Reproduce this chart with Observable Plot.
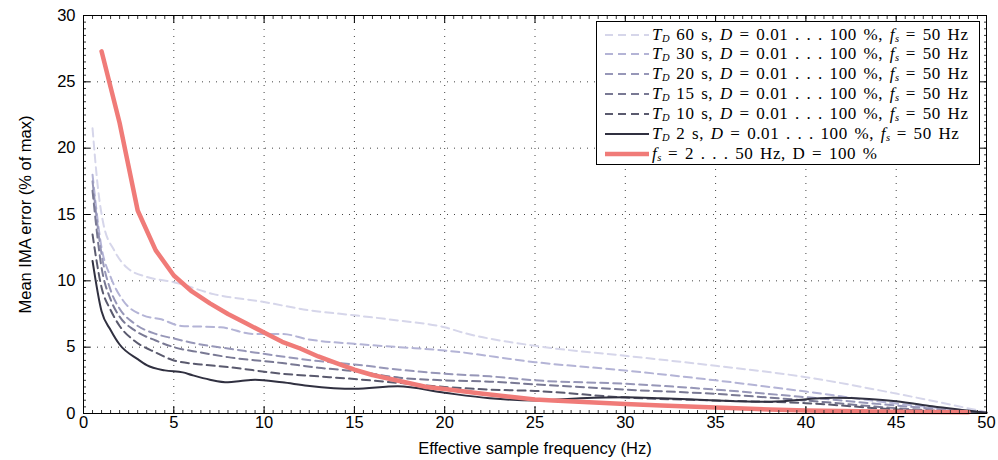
<!DOCTYPE html>
<html><head><meta charset="utf-8">
<script src="https://cdn.jsdelivr.net/npm/d3@7"></script>
<script src="https://cdn.jsdelivr.net/npm/@observablehq/plot@0.6"></script>
<style>
body{margin:0;background:#fff;}
#wrap{position:relative;width:998px;height:460px;}
#legend{position:absolute;left:596px;top:21px;width:384px;height:144px;border:1.5px solid #000;background:#fff;font-family:"Liberation Serif","DejaVu Serif",serif;font-size:17px;letter-spacing:0.6px;word-spacing:1.8px;box-sizing:border-box;}
.row{position:absolute;left:0;height:20px;display:flex;align-items:center;white-space:nowrap;line-height:18px;}
.row svg{margin-left:8px;margin-right:3px;}
sub{font-size:10.5px;vertical-align:-2px;line-height:0;letter-spacing:0;}
</style></head>
<body><div id="wrap"></div>
<script>
// ---- data ----
const f60 = [0.5,0.8,1.1,1.7,2.4,3.5,5,7.2,10,12.4,15,17.5,20,21,25,30,35,40,45,50];
const v60 = [21.5,17,14.3,12.3,11.0,10.3,9.9,9.0,8.4,7.8,7.4,7.0,6.5,6.1,5.1,4.35,3.6,2.74,1.5,0.1];
const f30 = [0.5,1,1.5,2.2,3.3,4.3,5.4,7.6,9.4,11,12.4,15,17.5,20,25,30,35,40,45,50];
const v30 = [18,12.5,10.3,8.5,7.4,7.1,6.6,6.5,6.0,6.0,5.6,5.25,5.0,4.75,3.87,3.24,2.5,1.65,0.75,0.1];
const fMid = [0.5,1,1.5,2,2.8,4,5,6.5,8,11,13,15,17.5,20,22.5,25,30,35,40,45,50];
const v20 = [17.5,12.0,9.3,7.9,6.8,6.0,5.65,5.2,4.9,4.3,3.95,3.7,3.3,3.0,2.8,2.5,2.24,1.8,1.23,0.6,0.05];
const v15 = [16.8,11.0,8.6,7.3,6.3,5.5,5.0,4.6,4.25,3.8,3.45,3.2,2.7,2.5,2.4,2.2,1.8,1.48,0.98,0.4,0.05];
const v10 = [13.5,9.5,7.8,6.6,5.5,4.6,4.0,3.7,3.5,3.0,2.8,2.6,2.3,2.0,1.8,1.7,1.2,0.98,0.78,0.3,0.05];
const f2 = [0.5,1,1.5,2,3,3.5,4.5,5.5,6,7,8,8.7,9.5,11,12.4,15,17.4,20,22.5,25,27.5,30,32,35,38,41.5,43.5,45,47,50];
const v2 = [11.5,7.7,6.3,5.2,4.1,3.65,3.25,3.1,2.9,2.55,2.35,2.45,2.55,2.35,2.1,1.86,2.05,1.56,1.15,0.98,1.15,1.23,1.15,0.98,0.88,1.18,1.1,0.93,0.55,0.05];
const fRed = [1,2,3,4,5,6,7,8,9,10,11,12,13,14,15,16,17,18,19,20,22,24,25,26,28,30,32,35,38,40,42,45,49];
const vRed = [27.3,21.9,15.3,12.3,10.4,9.2,8.3,7.5,6.8,6.1,5.4,4.9,4.3,3.8,3.3,2.9,2.6,2.3,2.0,1.85,1.5,1.2,1.05,0.98,0.85,0.72,0.6,0.45,0.3,0.22,0.18,0.13,0.1];
const xTicks = [0,5,10,15,20,25,30,35,40,45,50];
const yTicks = [0,5,10,15,20,25,30];
const legendTexts = [
  '<i>T</i><sub><i>D</i></sub> 60 s, <i>D</i> = 0.01 . . . 100 %, <i>f</i><sub><i>s</i></sub> = 50 Hz',
  '<i>T</i><sub><i>D</i></sub> 30 s, <i>D</i> = 0.01 . . . 100 %, <i>f</i><sub><i>s</i></sub> = 50 Hz',
  '<i>T</i><sub><i>D</i></sub> 20 s, <i>D</i> = 0.01 . . . 100 %, <i>f</i><sub><i>s</i></sub> = 50 Hz',
  '<i>T</i><sub><i>D</i></sub> 15 s, <i>D</i> = 0.01 . . . 100 %, <i>f</i><sub><i>s</i></sub> = 50 Hz',
  '<i>T</i><sub><i>D</i></sub> 10 s, <i>D</i> = 0.01 . . . 100 %, <i>f</i><sub><i>s</i></sub> = 50 Hz',
  '<i>T</i><sub><i>D</i></sub> 2 s, <i>D</i> = 0.01 . . . 100 %, <i>f</i><sub><i>s</i></sub> = 50 Hz',
  '<i>f</i><sub><i>s</i></sub> = 2 . . . 50 Hz, D = 100 %'
];

const series = [
  {f: f60, v: v60, color: "#d6d6ea", w: 2, dash: "8,5"},
  {f: f30, v: v30, color: "#b4b4d6", w: 2, dash: "8,5"},
  {f: fMid, v: v20, color: "#9797b8", w: 2, dash: "8,5"},
  {f: fMid, v: v15, color: "#797994", w: 2, dash: "8,5"},
  {f: fMid, v: v10, color: "#5a5a6e", w: 2, dash: "8,5"},
  {f: f2, v: v2, color: "#303040", w: 2, dash: null},
  {f: fRed, v: vRed, color: "#f07b78", w: 4.5, dash: null, linear: true}
];

const xMinor = d3.range(0, 50.001, 0.5);
const yMinor = d3.range(0, 30.001, 0.5);
const blank = () => "";

const lineMarks = series.map(s => Plot.line(s.f.map((x, i) => ({x, y: s.v[i]})), {
  x: "x", y: "y", stroke: s.color, strokeWidth: s.w,
  strokeDasharray: s.dash || undefined,
  curve: s.linear ? "linear" : "monotone-x"
}));

const chart = Plot.plot({
  width: 998, height: 460,
  marginLeft: 83, marginRight: 12, marginTop: 15, marginBottom: 47,
  x: {domain: [0, 50]},
  y: {domain: [0, 30]},
  style: {fontFamily: "'Liberation Sans', Arial, sans-serif", fontSize: "16.5px", color: "#000", background: "#fff"},
  marks: [
    Plot.gridX(xTicks, {stroke: "#444", strokeOpacity: 1, strokeDasharray: "1,6"}),
    Plot.gridY(yTicks, {stroke: "#444", strokeOpacity: 1, strokeDasharray: "1,6"}),
    ...lineMarks,
    Plot.axisX(xMinor, {tickSize: -3, tickFormat: blank, label: null, stroke: "#333"}),
    Plot.axisX(xMinor, {anchor: "top", tickSize: -3, tickFormat: blank, label: null, stroke: "#333"}),
    Plot.axisY(yMinor, {tickSize: -3, tickFormat: blank, label: null, stroke: "#333"}),
    Plot.axisY(yMinor, {anchor: "right", tickSize: -3, tickFormat: blank, label: null, stroke: "#333"}),
    Plot.axisX(xTicks, {anchor: "top", tickSize: -7, tickFormat: blank, label: null}),
    Plot.axisY(yTicks, {anchor: "right", tickSize: -7, tickFormat: blank, label: null}),
    Plot.axisX(xTicks, {tickSize: -7, tickPadding: 10, tickFormat: d => String(d),
      label: "Effective sample frequency (Hz)", labelAnchor: "center", labelArrow: "none", labelOffset: 40}),
    Plot.axisY(yTicks, {tickSize: -7, tickPadding: 15, tickFormat: d => String(d),
      label: "Mean IMA error (% of max)", labelAnchor: "center", labelArrow: "none", labelOffset: 64}),
    Plot.frame({stroke: "#000", strokeWidth: 1})
  ]
});
const wrap = document.getElementById("wrap");
wrap.appendChild(chart);

const leg = document.createElement("div");
leg.id = "legend";
series.forEach((s, i) => {
  const row = document.createElement("div");
  row.className = "row";
  row.style.top = (2.5 + i * 19.9) + "px";
  const dash = s.dash ? `stroke-dasharray="${s.dash}"` : "";
  row.innerHTML = `<svg width="44" height="10"><line x1="0" y1="5" x2="44" y2="5" stroke="${s.color}" stroke-width="${s.w}" ${dash}/></svg><span>${legendTexts[i]}</span>`;
  leg.appendChild(row);
});
wrap.appendChild(leg);
</script>
</body></html>
